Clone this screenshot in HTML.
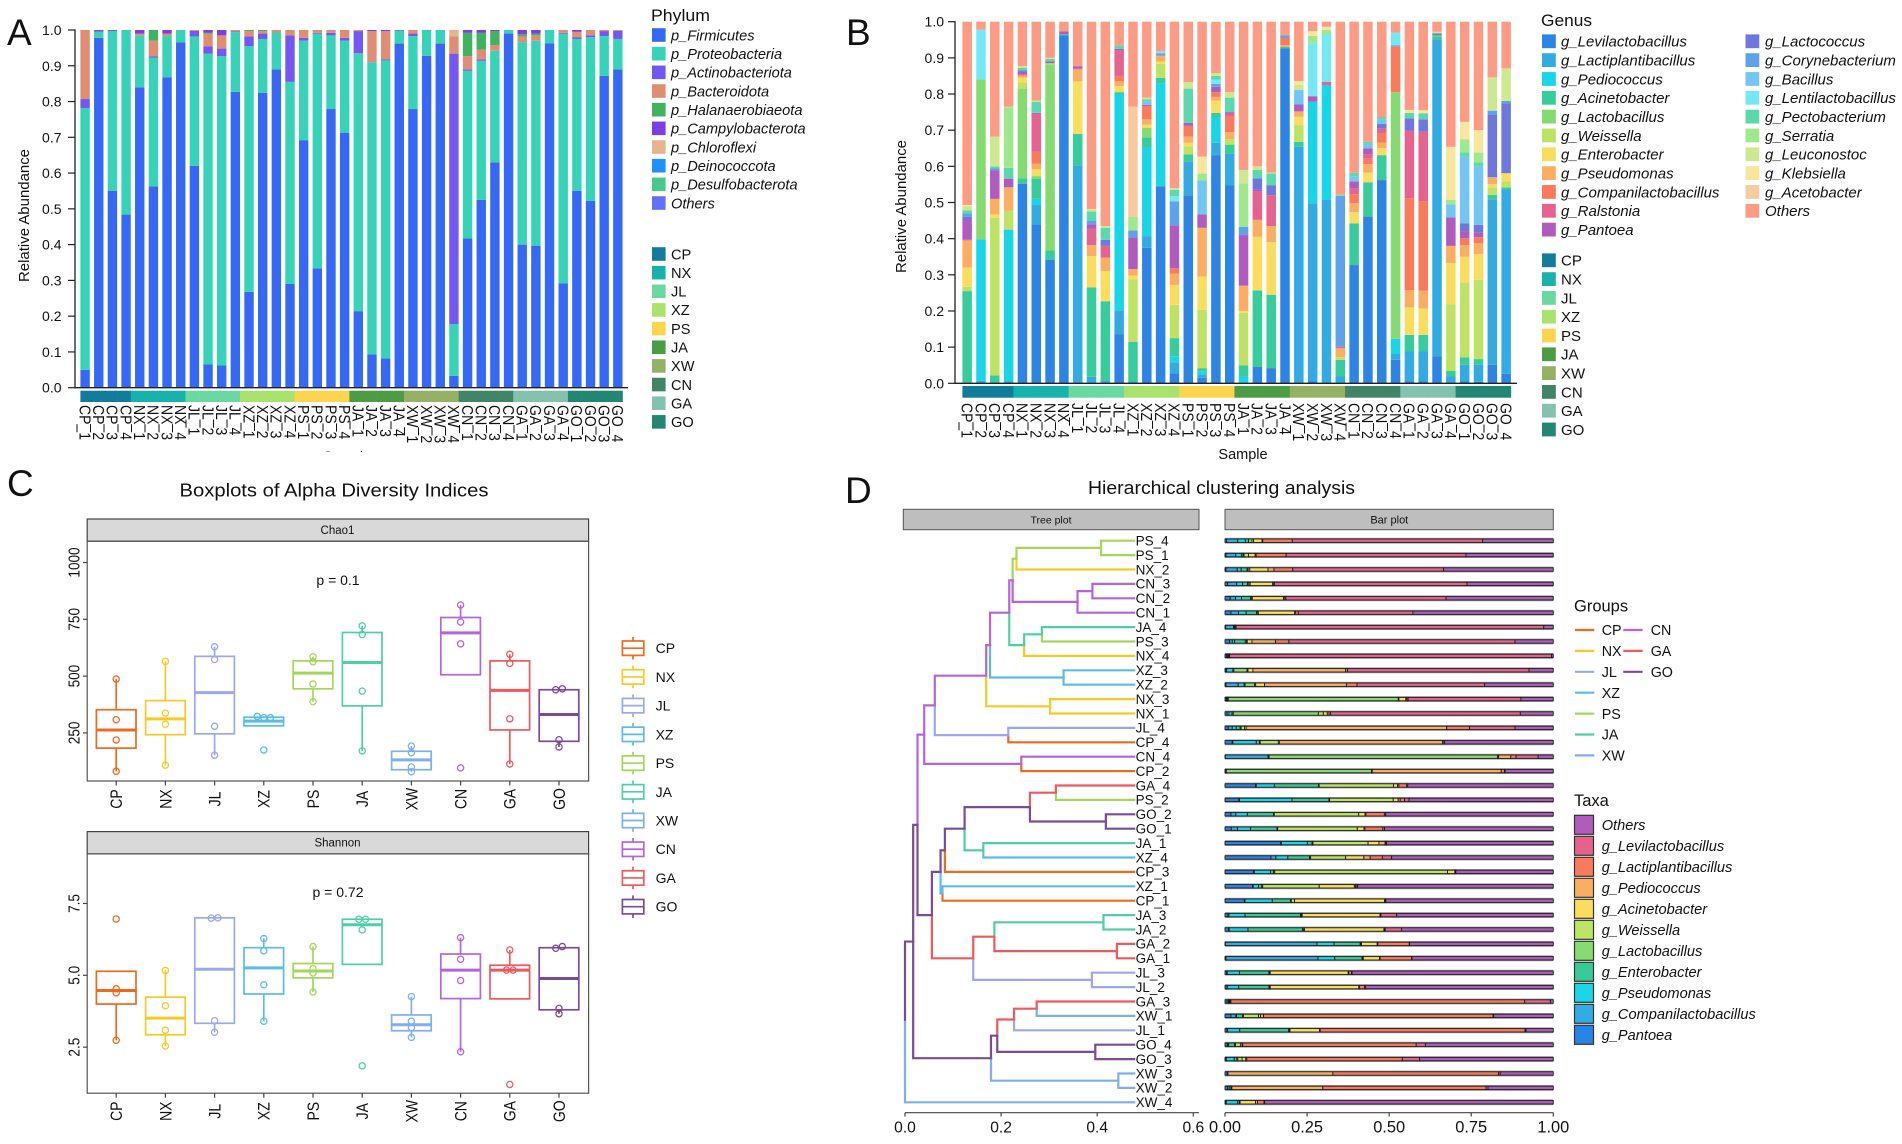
<!DOCTYPE html>
<html lang="en">
<head>
<meta charset="utf-8">
<title>Microbial community composition figure</title>
<style>
html,body{margin:0;padding:0;background:#fff}
svg{display:block}
text{font-family:"Liberation Sans",sans-serif;fill:#111}
</style>
</head>
<body>
<svg id="figure" xmlns="http://www.w3.org/2000/svg" width="1902" height="1144" viewBox="0 0 1902 1144">
  <rect x="0" y="0" width="1902" height="1144" fill="#fff"/>
  <defs><clipPath id="sampleClip"><rect x="300" y="400" width="100" height="52"/></clipPath></defs>

  <text x="7" y="45" font-size="37">A</text>
  <text x="846" y="45" font-size="37">B</text>
  <text x="7" y="496" font-size="37">C</text>
  <text x="845" y="503" font-size="37">D</text>

  <text transform="translate(29,215.5) rotate(-90)" text-anchor="middle" font-size="14.5" textLength="133" lengthAdjust="spacingAndGlyphs">Relative Abundance</text>
  <text x="347" y="461" text-anchor="middle" font-size="14" clip-path="url(#sampleClip)">Sample</text>
  <text transform="translate(906,206.5) rotate(-90)" text-anchor="middle" font-size="14.5" textLength="133" lengthAdjust="spacingAndGlyphs">Relative Abundance</text>
  <text x="1243" y="459" text-anchor="middle" font-size="14.5">Sample</text>

  <text x="651" y="21" font-size="16.5" textLength="59" lengthAdjust="spacingAndGlyphs">Phylum</text>
  <text x="1541" y="26" font-size="16.5" textLength="51" lengthAdjust="spacingAndGlyphs">Genus</text>

  <text x="334" y="496.5" text-anchor="middle" font-size="18" textLength="309" lengthAdjust="spacingAndGlyphs">Boxplots of Alpha Diversity Indices</text>
  <rect x="87.2" y="519" width="501.4" height="22.2" fill="#d9d9d9" stroke="#444" stroke-width="1.2"/>
  <text x="337.5" y="534" text-anchor="middle" font-size="11.5">Chao1</text>
  <rect x="87.2" y="541.2" width="501.4" height="239.8" fill="none" stroke="#555" stroke-width="1.2"/>
  <text x="338" y="585" text-anchor="middle" font-size="14">p = 0.1</text>
  <rect x="87.2" y="831.6" width="501.4" height="22.3" fill="#d9d9d9" stroke="#444" stroke-width="1.2"/>
  <text x="337.5" y="846.5" text-anchor="middle" font-size="11.5">Shannon</text>
  <rect x="87.2" y="853.9" width="501.4" height="239.3" fill="none" stroke="#555" stroke-width="1.2"/>
  <text x="338" y="897" text-anchor="middle" font-size="14">p = 0.72</text>

  <text x="1221.5" y="494" text-anchor="middle" font-size="18" textLength="267" lengthAdjust="spacingAndGlyphs">Hierarchical clustering analysis</text>
  <rect x="903.3" y="509.3" width="295.7" height="20.4" fill="#bebebe" stroke="#555" stroke-width="1"/>
  <text x="1051" y="523.5" text-anchor="middle" font-size="10.5" fill="#333">Tree plot</text>
  <rect x="1225" y="509.3" width="328.3" height="20.4" fill="#bebebe" stroke="#555" stroke-width="1"/>
  <text x="1389.3" y="523.5" text-anchor="middle" font-size="11" fill="#333">Bar plot</text>
  <text x="1574" y="611.7" font-size="16.5">Groups</text>
  <text x="1574" y="806" font-size="16.5">Taxa</text>
</svg>

<script>
/* ---------- shared categories ---------- */
const groupNames = ['CP','NX','JL','XZ','PS','JA','XW','CN','GA','GO'];
const sampleNames = ['CP_1','CP_2','CP_3','CP_4','NX_1','NX_2','NX_3','NX_4','JL_1','JL_2','JL_3','JL_4','XZ_1','XZ_2','XZ_3','XZ_4','PS_1','PS_2','PS_3','PS_4','JA_1','JA_2','JA_3','JA_4','XW_1','XW_2','XW_3','XW_4','CN_1','CN_2','CN_3','CN_4','GA_1','GA_2','GA_3','GA_4','GO_1','GO_2','GO_3','GO_4'];
const stripColors = ['#127C9B','#18B2AD','#6BD8A1','#A9E36E','#FBD54E','#4D9C45','#94B165','#428468','#84C1AE','#238672'];
const lineColors = ['#EC6B1E','#F7CA25','#9DA7EE','#5BBCEB','#A5D65A','#4ECFA4','#7FAFEC','#B465DE','#F0585F','#7B4C96'];

/* ---------- panel A: cumulative stack tops per sample ---------- */
const phylumNames = ['p_Firmicutes','p_Proteobacteria','p_Actinobacteriota','p_Bacteroidota','p_Halanaerobiaeota','p_Campylobacterota','p_Chloroflexi','p_Deinococcota','p_Desulfobacterota','Others'];
const phylumColors = ['#3569F5','#36D3B8','#7357F2','#DF8E74','#41B25F','#7B3FE4','#E6B48F','#1E90FF','#47C98B','#6470FA'];
const phylumTicks = [0,0.1,0.2,0.3,0.4,0.5,0.6,0.7,0.8,0.9,1];
const phylumTops = [
[.05,.782,.807,1],[.978,.995,1],[.55,.997,1],[.484,1],
[.84,.985,0,.99,0,1],[.563,.923,.926,.97,1],[.868,.983,0,.99,0,1],[.965,1],
[.62,.982,.998,1],[.065,.934,.954,.99,.993,1],[.062,.927,.948,.985,0,1],[.827,.994,.996,1],
[.268,.955,.982,.997,1],[.824,.975,.99,.997,1],[.89,.993,0,1],[.29,.855,.985,1],
[.692,.97,.978,1],[.334,.99,.992,1],[.779,.985,.992,1],[.713,.97,.978,1],
[.214,.935,.997,1],[.093,.91,0,.997,0,1],[.082,.915,.918,.997,0,1],[.962,.998,1],
[.779,.983,.99,1],[.928,1],[.962,1],[.033,.178,.934,.982,0,0,1],
[.417,.886,.89,.927,.992,1],[.525,.914,.918,.945,.992,1],[.63,.942,0,.958,.997,1],[.99,1],
[.40,.966,0,.982,.988,1],[.397,.97,0,.985,.99,1],[.963,1],[.292,.99,.992,1],
[.55,.975,.98,.995,0,1],[.522,.98,.985,1],[.872,.983,.997,1],[.89,.975,.998,1]
];

/* ---------- panel B: cumulative stack tops per sample (0 = genus absent) ---------- */
const genusNames = ['g_Levilactobacillus','g_Lactiplantibacillus','g_Pediococcus','g_Acinetobacter','g_Lactobacillus','g_Weissella','g_Enterobacter','g_Pseudomonas','g_Companilactobacillus','g_Ralstonia','g_Pantoea','g_Lactococcus','g_Corynebacterium','g_Bacillus','g_Lentilactobacillus','g_Pectobacterium','g_Serratia','g_Leuconostoc','g_Klebsiella','g_Acetobacter','Others'];
const genusColors = ['#2C84E4','#32ABE3','#18D5E8','#37CC9B','#85DA72','#BEE364','#FBDD5E','#FBAE62','#FC7A5C','#E5638E','#B05CBE','#6E78DC','#5EA2EC','#72C6F4','#74E9F6','#5BD9AC','#A0E88C','#CDE891','#F8E69B','#F8CB9E','#FD9B85'];
const genusTops = [
[0,0,.002,.255,0,.267,.32,.395,.397,0,.453,.46,.47,0,0,.478,0,.49,.493,0,1],
[0,.007,.398,0,.84,0,0,0,0,0,0,0,0,0,.978,0,0,0,0,0,1],
[0,0,0,.022,0,.458,.467,.51,0,0,.588,.592,.594,0,0,.6,0,.682,0,0,1],
[0,.005,.425,0,0,.477,0,.542,0,0,.566,0,0,0,0,.596,.763,.765,0,0,1],
[.552,0,0,.567,.815,.832,.845,.85,.852,.855,.862,.865,0,0,0,.872,0,.877,0,0,1],
[.44,.493,.51,.565,.573,.575,.592,.607,.64,.745,.748,0,0,0,0,.778,0,.782,0,0,1],
[.342,0,0,.368,.882,.885,0,0,0,0,.89,0,0,0,0,.897,0,.9,0,0,1],
[.962,0,0,.965,0,0,0,0,0,0,.973,0,0,0,0,0,0,0,0,0,1],
[0,.603,0,.69,0,0,.835,.868,.87,0,.877,0,0,0,0,0,0,0,0,0,1],
[0,.018,0,.265,0,0,.352,.382,0,.427,.44,0,.45,0,0,.475,0,.482,0,0,1],
[0,.008,0,.227,0,0,.31,.348,0,.38,0,.397,0,0,0,.43,0,.435,0,0,1],
[.135,.2,.8,.805,0,.808,.822,.835,.85,.92,.925,0,0,0,0,.935,0,0,0,0,1],
[0,.005,0,.115,0,.287,.298,.316,0,0,.403,0,.423,0,0,0,.46,0,0,.765,1],
[.375,.407,.652,.68,.707,0,.715,.73,.765,.767,.77,0,0,.78,0,.785,0,.79,0,0,1],
[.545,0,.83,.845,0,.883,.89,.905,.907,0,0,0,.912,0,.918,0,0,0,0,0,1],
[.028,.058,.075,.125,0,.217,.272,.303,.318,0,.437,0,.503,0,.518,.535,0,.54,0,0,1],
[.52,.613,0,.633,0,.655,.665,.682,.71,.712,.72,0,0,0,0,.815,0,.833,0,0,1],
[.015,.025,.032,.042,0,.203,.295,.43,0,0,.467,0,0,.56,0,.562,.58,0,.627,0,1],
[.63,.665,.735,.748,0,0,.782,.792,.805,0,.82,0,.828,0,.84,.85,0,.858,0,0,1],
[.547,.635,0,.66,0,.675,0,.695,.738,.745,.75,0,0,0,0,.79,0,.805,0,0,1],
[0,0,.02,.05,0,.195,.2,.27,0,0,.41,0,.433,0,0,0,.553,.59,0,0,1],
[.045,0,0,.257,0,0,.405,.452,0,.53,.537,.567,0,0,0,.59,0,.6,0,0,1],
[.042,0,0,.245,0,0,.39,.435,0,.52,0,.548,0,0,0,.58,0,.583,0,0,1],
[.926,0,0,.93,0,0,0,.935,.955,0,0,0,.962,0,0,0,0,0,0,0,1],
[0,.654,0,.668,0,.714,.737,.752,0,0,.771,0,0,.811,0,0,0,.825,.836,0,1],
[.005,.498,.779,0,0,0,0,0,0,0,.794,0,0,0,.94,0,.961,0,.974,0,1],
[0,.507,.825,0,0,0,0,0,0,.834,0,0,0,0,.966,0,.977,0,.986,0,1],
[0,.02,0,.065,0,.072,0,.097,0,.101,0,0,.519,0,0,0,.522,0,0,0,1],
[.327,0,0,.442,0,0,.473,.498,.523,.539,.558,0,0,.571,0,.582,0,0,0,0,1],
[.461,0,0,.556,0,0,.583,.606,.622,.634,.65,0,0,.662,0,.668,0,0,0,0,1],
[.562,0,0,.631,0,0,.65,.666,.691,.705,0,.717,0,.73,0,.735,0,0,0,0,1],
[.065,.081,.123,0,.805,0,0,0,.931,0,0,0,.935,0,.97,0,0,0,0,0,1],
[.005,.088,0,.134,0,0,.21,.258,.512,.699,0,.733,0,0,0,.748,0,0,.756,0,1],
[.005,.088,0,.134,0,0,.207,.256,.504,.696,0,.73,0,0,0,.747,0,0,.755,0,1],
[.074,.951,0,.959,.962,0,0,0,0,0,0,.968,0,0,0,0,0,.972,0,0,1],
[0,.02,0,.034,0,.219,.332,.38,0,0,.459,0,0,.495,0,0,.507,0,.654,0,1],
[.005,.051,0,.072,0,.279,.35,.382,.401,0,.421,.442,0,.627,0,.639,.675,0,.723,0,1],
[.004,.051,0,.067,0,.286,.357,.387,.404,0,.418,.438,0,.599,0,.611,.638,0,.7,0,1],
[.051,.509,0,.521,0,.542,.551,.57,0,0,0,.742,.754,0,0,0,0,.846,0,0,1],
[.026,.536,0,.542,0,.558,.581,0,0,0,0,.774,.781,0,0,0,0,.871,0,0,1]
];

/* ---------- panel C: box statistics ---------- */
const chaoTicks = [250,500,750,1000];
const chaoQ1 = [183,242,246,281,444,369,88,506,263,213];
const chaoMedian = [263,312,427,302,513,560,131,690,437,331];
const chaoQ3 = [352,392,587,319,567,692,169,758,567,440];
const chaoLow = [81,108,152,281,387,171,79,506,113,188];
const chaoHigh = [487,565,629,323,585,721,192,813,596,444];
const chaoPoints = [[487,308,219,81],[565,337,288,108],[629,573,279,152],[323,317,317,175],[585,563,465,387],[721,683,434,171],[192,163,100,79],[813,738,642,96],[596,556,312,113],[440,444,220,188]];

const shannonTicks = [2.5,5,7.5];
const shannonQ1 = [4.0,2.93,3.33,4.35,4.91,5.38,3.07,4.19,4.18,3.80];
const shannonMedian = [4.47,3.51,5.21,5.26,5.15,6.76,3.28,5.18,5.18,4.89];
const shannonQ3 = [5.14,4.24,7.0,5.96,5.41,6.95,3.62,5.74,5.35,5.96];
const shannonLow = [2.74,2.54,3.02,3.40,4.42,5.38,2.84,2.34,4.18,3.66];
const shannonHigh = [5.14,5.17,7.02,6.28,6.0,6.95,4.26,6.31,5.88,6.03];
const shannonPoints = [[6.96,4.53,4.39,2.74],[5.17,3.94,3.09,2.54],[6.99,7.0,3.42,3.02],[6.28,5.85,4.67,3.40],[6.0,5.23,5.08,4.42],[6.95,6.95,6.58,1.85],[4.26,3.40,3.18,2.84],[6.31,5.56,4.82,2.34],[5.88,5.18,5.18,1.20],[5.94,6.0,3.85,3.66]];

/* ---------- panel D: tree merge heights and stacked taxa ---------- */
const treeTicks = [0,0.2,0.4,0.6];
const treeTip = 0.477;
const treeRoot = [0,'XW',
  [.017,'GO',
    [.026,'GO',
      [.040,'CN',
        [.062,'CN',
          [.169,'CN',
            [.177,'CN',
              [.217,'CN',
                [.224,'CN',
                  [.232,'PS',[.408,'PS','PS_4','PS_1'],'NX_2'],
                  [.359,'CN',[.390,'CN','CN_3','CN_2'],'CN_1']],
                [.248,'JA',[.285,'JA','JA_4','PS_3'],'NX_4']],
              [.330,'XZ','XZ_3','XZ_2']],
            [.302,'NX','NX_3','NX_1']],
          [.215,'JL','JL_4','CP_4']],
        [.242,'CN','CN_4','CP_2']],
      [.056,'GO',
        [.074,'GO',
          [.083,'GO',
            [.124,'GO',
              [.260,'GO',[.314,'GA','GA_4','PS_2'],[.418,'GO','GO_2','GO_1']],
              [.163,'JA','JA_1','XZ_4']],
            'CP_3'],
          [.078,'XZ','XZ_1','CP_1']],
        [.142,'GA',
          [.186,'GA',[.413,'JA','JA_3','JA_2'],[.441,'GA','GA_2','GA_1']],
          [.389,'JL','JL_3','JL_2']]]],
    [.179,'GO',
      [.192,'GO',
        [.227,'GA',[.274,'GA','GA_3','XW_1'],'JL_1'],
        [.396,'GO','GO_4','GO_3']],
      [.444,'XW','XW_3','XW_2']]],
  'XW_4'];

const taxaTicks = [0,0.25,0.5,0.75,1];
const taxaTickLabels = ['0.00','0.25','0.50','0.75','1.00'];
const taxaStackOrder = ['g_Pantoea','g_Companilactobacillus','g_Pseudomonas','g_Enterobacter','g_Lactobacillus','g_Weissella','g_Acinetobacter','g_Pediococcus','g_Lactiplantibacillus','g_Levilactobacillus','Others'];
const taxaColors = ['#2B84E5','#33ABE3','#19D6E9','#38CB9A','#86DB72','#BEE464','#FADD5D','#FBAE62','#FC7A5C','#E5628D','#B15CBD'];
const taxaShares = [
[.5,3.4,2.3,1,1,.5,2.6,.2,9,58,21.5],
[.3,3,1.7,.5,.3,1.4,2,.3,9.1,54.8,26.6],
[.3,3.4,1.2,1.8,.3,.5,5.5,1.8,5.7,45.6,33.2],
[.8,2.8,1.8,1.5,.4,.4,6.9,.2,.3,58.9,26.4],
[1.6,1.6,1.8,2.8,.2,.3,9.5,.4,.3,48.7,32.6],
[1.8,2.3,2.3,3.2,.2,.3,11,.3,.8,34.7,42.5],
[.2,2.4,.2,.1,.1,.1,.1,.1,.1,93.8,2.9],
[1.4,.8,.7,3.2,.4,.2,1.4,7.1,4,68,11.5],
[.5,.3,.2,.1,.1,.1,.1,0,0,97.6,.5],
[.3,.2,1.9,.3,4,.3,1.5,28.2,.6,55.2,7.4],
[.3,3.7,1.8,.3,2.9,.3,2.7,24.8,3.2,38.7,20.8],
[.4,.2,.2,.2,52,.2,2.1,.3,.4,34.5,9.9],
[.6,.6,.9,.4,25.8,1.5,1.2,.5,.5,57.5,10],
[1,1.2,1.2,1.2,.3,1,.5,60.8,6.9,13.8,11.6],
[2.2,.2,7.1,1,.2,5.5,.3,49.6,.4,.2,33],
[.1,13,.2,.1,69.4,.1,.2,3.7,1.6,6.7,4.6],
[.1,.1,.1,.1,44.4,.1,.1,39.4,1,.2,14.7],
[9.3,.2,5.5,13.4,.2,22.6,1.2,.4,2.4,.3,44.2],
[4.2,.2,15.9,11.2,.2,19.3,1.5,.6,1.3,1.4,43.7],
[1.8,1.5,3.5,8,.2,25.7,1.9,.3,5.6,.4,51],
[1.9,1.9,3.9,8,.2,24,2,.3,5.4,.5,50.9],
[16.9,.2,7.9,1.4,.3,16.7,3.3,1.9,.2,.2,50.6],
[13.9,1.5,3.6,6.6,.3,10.6,5.5,1.9,3.7,2.8,48.9],
[8.7,.2,4.9,1,.3,52.5,2.2,.1,.1,.1,29.6],
[8.4,.2,1.6,1,.3,17.2,10.7,.4,.4,.2,59.6],
[5.9,.2,8.3,5.6,.2,1,27.4,.2,.1,.1,51],
[.9,.3,4.9,16.9,.3,.2,23.7,.2,.1,4.8,47.7],
[1.1,.2,5.7,16.6,.3,.3,24.2,.2,.2,5,46.2],
[.1,28,5.2,8,.2,.2,4.8,.2,9.6,.1,43.9],
[.3,28,5.1,8.3,.2,.2,4.9,.2,9.6,.1,43],
[.5,.2,3.7,9,.2,.2,23.8,.2,.8,.2,61.4],
[.6,.1,3.5,9.2,.2,.2,27,.2,1.6,.2,57.3],
[.6,.4,.2,.1,.1,.1,.1,.2,89.4,7.8,.9],
[1.8,1.5,.2,1.8,.3,4.6,.6,.9,69.7,.2,18.1],
[.6,.2,3.7,14.9,.2,.2,9,.2,62.4,.3,8.3],
[.7,.2,.2,1.8,.3,1.5,.5,.2,52.9,2.8,39],
[.2,.2,2.4,.8,.3,1.3,1.1,.3,47.2,5.2,40.6],
[.7,.1,.1,0,0,0,0,32,50.5,.5,16.2],
[.8,.5,.5,.2,0,0,.1,27.7,49.7,.6,19.9],
[.2,.2,3.5,.5,.1,.1,4.7,.6,2,.2,88]
];

/* ---------- helpers ---------- */
const NS = 'http://www.w3.org/2000/svg';
const figure = document.getElementById('figure');
function shape(tag, props) {
  const node = document.createElementNS(NS, tag);
  for (const k in props) node.setAttribute(k, props[k]);
  figure.appendChild(node);
  return node;
}
function caption(str, props) {
  const node = shape('text', props);
  node.textContent = str;
  return node;
}
function rotatedLabel(str, cx, cy, angle, stretch, size, anchor) {
  return caption(str, {
    transform: 'translate(' + cx + ',' + cy + ') rotate(' + angle + ') scale(1,' + stretch + ')',
    x: 0, y: size * 0.358, 'font-size': size, 'text-anchor': anchor
  });
}

/* ---------- stacked bar panels ---------- */
function drawStackPanel(cfg) {
  const y = v => cfg.y0 - v * cfg.ySpan;
  const x = i => cfg.x0 + i * cfg.step;

  cfg.rows.forEach((row, i) => {
    let base = 0;
    row.forEach((top, s) => {
      if (top <= base) return;
      const seg = shape('rect', { x: x(i), y: y(top), width: cfg.barW, height: y(base) - y(top), fill: cfg.colors[s] });
      
      
      base = top;
    });
  });

  sampleNames.forEach((name, i) => {
    const g = Math.floor(i / 4);
    const gap = i === 0 ? 0 : cfg.step - cfg.barW;
    const cell = shape('rect', { x: x(i) - gap, y: cfg.stripY, width: cfg.barW + gap + 0.3, height: cfg.stripH, fill: stripColors[g] });
    
    
    const lab = rotatedLabel(name, x(i) + cfg.barW / 2, cfg.labelY, 90, 1.14, 14, 'start');
    
    
  });

  const yAxis = shape('line', { x1: cfg.axisX, x2: cfg.axisX, y1: y(1) - 0.6, y2: y(0) + 0.6, stroke: '#222', 'stroke-width': 1.3 });
  
  
  const xAxis = shape('line', { x1: cfg.axisX, x2: cfg.axisEnd, y1: y(0), y2: y(0), stroke: '#222', 'stroke-width': 1.3 });
  
  

  phylumTicks.forEach(t => {
    const tick = shape('line', { x1: cfg.axisX - 7, x2: cfg.axisX, y1: y(t), y2: y(t), stroke: '#222', 'stroke-width': 1.2 });
    
    
    const lab = caption(t.toFixed(1), { x: cfg.tickLabelX, y: y(t) + 5, 'font-size': 14, 'text-anchor': 'end' });
    
    
  });
}
drawStackPanel({ rows: phylumTops, colors: phylumColors, y0: 387.7, ySpan: 357.7, x0: 80.4, step: 13.66, barW: 9.4, stripY: 390.7, stripH: 11.3, labelY: 405, axisX: 75, axisEnd: 628, tickLabelX: 61.5 });
drawStackPanel({ rows: genusTops, colors: genusColors, y0: 383.3, ySpan: 361.6, x0: 962.4, step: 13.82, barW: 9.5, stripY: 386, stripH: 11.7, labelY: 403, axisX: 955, axisEnd: 1517, tickLabelX: 944 });

/* ---------- legends for A and B ---------- */
function swatchColumn(names, colors, sx, firstY, gap, size, labelX, fontSize, italic) {
  names.forEach((name, i) => {
    const sw = shape('rect', { x: sx, y: firstY + i * gap, width: size, height: size, fill: colors[i] });
    
    
    const lab = caption(name, { x: labelX, y: firstY + i * gap + size / 2 + fontSize * 0.36, 'font-size': fontSize, 'font-style': italic ? 'italic' : 'normal' });
    
    
  });
}
swatchColumn(phylumNames, phylumColors, 652, 28.2, 18.67, 13.6, 671, 14.6, true);
swatchColumn(groupNames, stripColors, 652, 247.2, 18.65, 13.6, 671, 14.6, false);
swatchColumn(genusNames.slice(0, 11), genusColors.slice(0, 11), 1542, 34.4, 18.83, 13.8, 1561, 15, true);
swatchColumn(genusNames.slice(11), genusColors.slice(11), 1745.5, 34.4, 18.83, 13.8, 1765, 15, true);
swatchColumn(groupNames, stripColors, 1542, 253.4, 18.8, 13.8, 1561, 15, false);

/* ---------- panel C boxplots ---------- */
function drawBoxPanel(cfg) {
  const x = i => 116.2 + i * 49.2;
  const y = cfg.y;
  groupNames.forEach((name, i) => {
    const col = lineColors[i];
    const cx = x(i);
    const upper = shape('line', { x1: cx, x2: cx, y1: y(cfg.high[i]), y2: y(cfg.q3[i]), stroke: col, 'stroke-width': 1.7 });
    
    
    const lower = shape('line', { x1: cx, x2: cx, y1: y(cfg.q1[i]), y2: y(cfg.low[i]), stroke: col, 'stroke-width': 1.7 });
    
    
    const box = shape('rect', { x: cx - 19.8, y: y(cfg.q3[i]), width: 39.6, height: y(cfg.q1[i]) - y(cfg.q3[i]), fill: 'none', stroke: col, 'stroke-width': 1.7 });
    
    
    const med = shape('line', { x1: cx - 19.8, x2: cx + 19.8, y1: y(cfg.median[i]), y2: y(cfg.median[i]), stroke: col, 'stroke-width': 3 });
    
    

    const pts = cfg.points[i];
    pts.forEach((p, k) => {
      const isTie = q => Math.abs(y(q) - y(p)) < 2.2;
      const ties = pts.filter(isTie).length;
      const rank = pts.slice(0, k).filter(isTie).length;
      const off = (rank - (ties - 1) / 2) * 6.6;
      const dot = shape('circle', { cx: cx + off, cy: y(p), r: 3.1, fill: 'none', stroke: col, 'stroke-width': 1.3 });
      
      
    });

    const tick = shape('line', { x1: cx, x2: cx, y1: cfg.bottom, y2: cfg.bottom + 4.5, stroke: '#444', 'stroke-width': 1.2 });
    
    
    const lab = rotatedLabel(name, cx, cfg.bottom + 18, -90, 1.18, 14, 'middle');
    
    
  });
  cfg.ticks.forEach(t => {
    const tick = shape('line', { x1: 83, x2: 87.2, y1: y(t), y2: y(t), stroke: '#444', 'stroke-width': 1.2 });
    
    
    const lab = rotatedLabel(cfg.fmt(t), 74, y(t), -90, 1.18, 13.6, 'middle');
    
    
  });
}
drawBoxPanel({ y: v => 732.9 - (v - 250) * 0.2272, q1: chaoQ1, median: chaoMedian, q3: chaoQ3, low: chaoLow, high: chaoHigh, points: chaoPoints, ticks: chaoTicks, bottom: 781, fmt: t => String(t) });
drawBoxPanel({ y: v => 975.3 - (v - 5) * 28.74, q1: shannonQ1, median: shannonMedian, q3: shannonQ3, low: shannonLow, high: shannonHigh, points: shannonPoints, ticks: shannonTicks, bottom: 1093.2, fmt: t => t.toFixed(1) });

groupNames.forEach((name, i) => {
  const cy = 648.2 + i * 28.72;
  const col = lineColors[i];
  const stem = shape('line', { x1: 633, x2: 633, y1: cy - 11.3, y2: cy + 11.3, stroke: col, 'stroke-width': 1.7 });
  
  
  const key = shape('rect', { x: 622.4, y: cy - 7.2, width: 21.4, height: 14.4, fill: '#fff', stroke: col, 'stroke-width': 1.7 });
  
  
  const mid = shape('line', { x1: 622.4, x2: 643.8, y1: cy, y2: cy, stroke: col, 'stroke-width': 1.7 });
  
  
  const lab = caption(name, { x: 655.6, y: cy + 5, 'font-size': 14 });
  
  
});

/* ---------- panel D tree ---------- */
const treeX = d => 905 + d * 480.5;
const rowY = i => 540.7 + i * 14.4;
let leafCursor = 0;
const groupColor = key => lineColors[groupNames.indexOf(key)];
function layoutTree(node) {
  if (typeof node === 'string') {
    const y = rowY(leafCursor++);
    return { x: treeX(treeTip), y: y, color: groupColor(node.slice(0, 2)), name: node };
  }
  const kids = [layoutTree(node[2]), layoutTree(node[3])];
  const px = treeX(node[0]);
  const py = (kids[0].y + kids[1].y) / 2;
  kids.forEach(k => {
    const branch = shape('path', { d: 'M' + px + ' ' + py + 'V' + k.y + 'H' + k.x, fill: 'none', stroke: k.color, 'stroke-width': 2.2, 'stroke-linecap': 'square' });
    
    
    if (k.name) {
      const lab = caption(k.name, { x: treeX(treeTip) + 1.4, y: k.y + 4.8, 'font-size': 13.5 });
      
      
    }
  });
  return { x: px, y: py, color: groupColor(node[1]) };
}
layoutTree(treeRoot);

const treeAxis = shape('line', { x1: 905, x2: 1199, y1: 1112.7, y2: 1112.7, stroke: '#444', 'stroke-width': 1.2 });


treeTicks.forEach(t => {
  const tick = shape('line', { x1: treeX(t), x2: treeX(t), y1: 1112.7, y2: 1116.5, stroke: '#444', 'stroke-width': 1.2 });
  
  
  const lab = caption(t.toFixed(1), { x: treeX(t), y: 1132.5, 'font-size': 15.6, 'text-anchor': 'middle' });
  
  
});

/* ---------- panel D stacked rows ---------- */
const shareX = v => 1225 + v * 328.3;
taxaShares.forEach((row, i) => {
  const total = row.reduce((a, b) => a + b, 0);
  let run = 0;
  const halo = shape('rect', { x: shareX(0), y: rowY(i) - 2.9, width: shareX(1) - shareX(0), height: 5.8, fill: '#999' });
  
  
  row.forEach((share, s) => {
    const a = run / total;
    run += share;
    const b = run / total;
    const seg = shape('rect', { x: shareX(a), y: rowY(i) - 1.7, width: Math.max(0, shareX(b) - shareX(a)), height: 3.4, fill: taxaColors[s], stroke: '#1c1c1c', 'stroke-width': 0.9 });
    
    
  });
});
const shareAxis = shape('line', { x1: 1225, x2: 1553.3, y1: 1112.7, y2: 1112.7, stroke: '#444', 'stroke-width': 1.2 });


taxaTicks.forEach((t, i) => {
  const tick = shape('line', { x1: shareX(t), x2: shareX(t), y1: 1112.7, y2: 1116.5, stroke: '#444', 'stroke-width': 1.2 });
  
  
  const lab = caption(taxaTickLabels[i], { x: shareX(t), y: 1132.5, 'font-size': 16.4, 'text-anchor': 'middle' });
  
  
});

/* ---------- panel D legends ---------- */
groupNames.forEach((name, i) => {
  const col2 = i >= 7;
  const row = col2 ? i - 7 : i;
  const y = 630 + row * 20.9;
  const x1 = col2 ? 1623.3 : 1575;
  const key = shape('line', { x1: x1, x2: x1 + 19.3, y1: y, y2: y, stroke: lineColors[i], 'stroke-width': 2.2 });
  
  
  const lab = caption(name, { x: col2 ? 1650.7 : 1601.7, y: y + 5.2, 'font-size': 14.3 });
  
  
});
taxaStackOrder.slice().reverse().forEach((name, i) => {
  const y = 815.3 + i * 21;
  const sw = shape('rect', { x: 1574.5, y: y, width: 19, height: 19, fill: taxaColors[taxaColors.length - 1 - i], stroke: '#333', 'stroke-width': 1.2 });
  
  
  const lab = caption(name, { x: 1601.7, y: y + 14.6, 'font-size': 14.6, 'font-style': 'italic' });
  
  
});
</script>
</body>
</html>
